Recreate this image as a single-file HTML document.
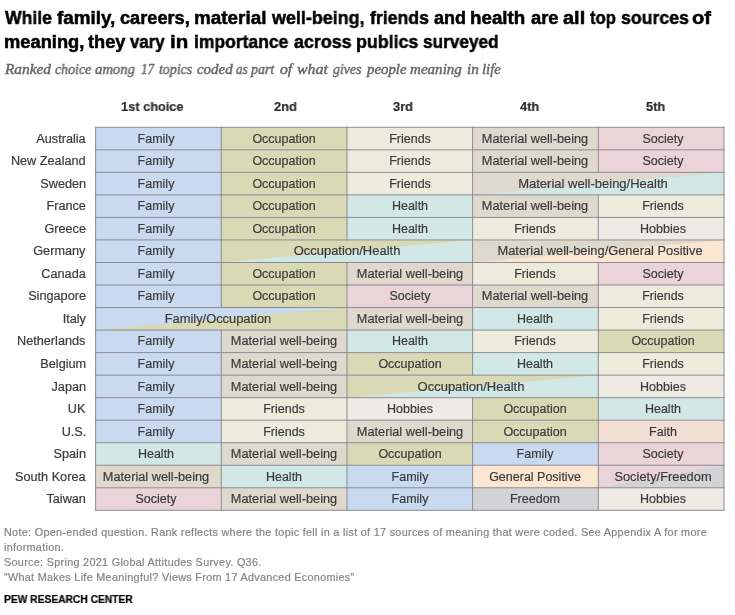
<!DOCTYPE html>
<html lang="en"><head><meta charset="utf-8"><title>Sources of meaning</title>
<style>

html,body{margin:0;padding:0;background:#fff;}
body{width:735px;height:615px;position:relative;overflow:hidden;font-family:"Liberation Sans",sans-serif;color:#3b3b3b;}
svg{position:absolute;left:0;top:0;}
.t{will-change:transform;position:absolute;white-space:nowrap;line-height:1;}
.title{-webkit-text-stroke:0.5px #000;font-weight:bold;font-size:18px;color:#000;left:4px;transform-origin:0 0;transform:scaleX(1);}
.sub{-webkit-text-stroke:0.45px #666666;font-family:"Liberation Serif",serif;font-style:italic;letter-spacing:0px;font-size:14.8px;color:#666666;left:4px;top:61.9px;transform-origin:0 0;transform:scaleX(1.033);}
.hd{-webkit-text-stroke:0.2px #2b2b2b;font-weight:bold;font-size:13px;color:#2b2b2b;top:99.9px;transform-origin:0 0;transform:scaleX(0.985);}
.ct{-webkit-text-stroke:0.2px #3b3b3b;font-size:12.5px;right:649.2px;text-align:right;transform-origin:100% 0;transform:scaleX(1.015);}
.c{-webkit-text-stroke:0.2px #3b3b3b;font-size:12.5px;width:300px;margin-left:-150px;text-align:center;transform:scaleX(1);}
.n{-webkit-text-stroke:0.2px #848484;letter-spacing:0.3px;font-size:10.5px;color:#848484;left:4px;transform-origin:0 0;transform:scaleX(1.029);}
.pew{-webkit-text-stroke:0.2px #000;font-weight:bold;font-size:10.5px;color:#000;left:4px;top:594px;transform-origin:0 0;transform:scaleX(0.976);}

</style></head><body>
<svg width="735" height="615" viewBox="0 0 735 615">
<rect x="95.6" y="127.3" width="125.7" height="22.53" fill="#c9d9f0"/>
<rect x="221.3" y="127.3" width="125.7" height="22.53" fill="#d9d9b6"/>
<rect x="347" y="127.3" width="125.6" height="22.53" fill="#edebdb"/>
<rect x="472.6" y="127.3" width="125.7" height="22.53" fill="#dfd9cd"/>
<rect x="598.3" y="127.3" width="125.7" height="22.53" fill="#ead3d9"/>
<rect x="95.6" y="149.83" width="125.7" height="22.53" fill="#c9d9f0"/>
<rect x="221.3" y="149.83" width="125.7" height="22.53" fill="#d9d9b6"/>
<rect x="347" y="149.83" width="125.6" height="22.53" fill="#edebdb"/>
<rect x="472.6" y="149.83" width="125.7" height="22.53" fill="#dfd9cd"/>
<rect x="598.3" y="149.83" width="125.7" height="22.53" fill="#ead3d9"/>
<rect x="95.6" y="172.36" width="125.7" height="22.53" fill="#c9d9f0"/>
<rect x="221.3" y="172.36" width="125.7" height="22.53" fill="#d9d9b6"/>
<rect x="347" y="172.36" width="125.6" height="22.53" fill="#edebdb"/>
<rect x="472.6" y="172.36" width="251.4" height="22.53" fill="#d1e8e6"/>
<polygon points="472.6,172.36 724,172.36 472.6,194.89" fill="#dfd9cd"/>
<rect x="95.6" y="194.89" width="125.7" height="22.53" fill="#c9d9f0"/>
<rect x="221.3" y="194.89" width="125.7" height="22.53" fill="#d9d9b6"/>
<rect x="347" y="194.89" width="125.6" height="22.53" fill="#d1e8e6"/>
<rect x="472.6" y="194.89" width="125.7" height="22.53" fill="#dfd9cd"/>
<rect x="598.3" y="194.89" width="125.7" height="22.53" fill="#edebdb"/>
<rect x="95.6" y="217.42" width="125.7" height="22.53" fill="#c9d9f0"/>
<rect x="221.3" y="217.42" width="125.7" height="22.53" fill="#d9d9b6"/>
<rect x="347" y="217.42" width="125.6" height="22.53" fill="#d1e8e6"/>
<rect x="472.6" y="217.42" width="125.7" height="22.53" fill="#edebdb"/>
<rect x="598.3" y="217.42" width="125.7" height="22.53" fill="#f0eae5"/>
<rect x="95.6" y="239.95" width="125.7" height="22.53" fill="#c9d9f0"/>
<rect x="221.3" y="239.95" width="251.3" height="22.53" fill="#d1e8e6"/>
<polygon points="221.3,239.95 472.6,239.95 221.3,262.48" fill="#d9d9b6"/>
<rect x="472.6" y="239.95" width="251.4" height="22.53" fill="#fbe6d2"/>
<polygon points="472.6,239.95 724,239.95 472.6,262.48" fill="#dfd9cd"/>
<rect x="95.6" y="262.48" width="125.7" height="22.53" fill="#c9d9f0"/>
<rect x="221.3" y="262.48" width="125.7" height="22.53" fill="#d9d9b6"/>
<rect x="347" y="262.48" width="125.6" height="22.53" fill="#dfd9cd"/>
<rect x="472.6" y="262.48" width="125.7" height="22.53" fill="#edebdb"/>
<rect x="598.3" y="262.48" width="125.7" height="22.53" fill="#ead3d9"/>
<rect x="95.6" y="285.01" width="125.7" height="22.53" fill="#c9d9f0"/>
<rect x="221.3" y="285.01" width="125.7" height="22.53" fill="#d9d9b6"/>
<rect x="347" y="285.01" width="125.6" height="22.53" fill="#ead3d9"/>
<rect x="472.6" y="285.01" width="125.7" height="22.53" fill="#dfd9cd"/>
<rect x="598.3" y="285.01" width="125.7" height="22.53" fill="#edebdb"/>
<rect x="95.6" y="307.54" width="251.4" height="22.53" fill="#d9d9b6"/>
<polygon points="95.6,307.54 347,307.54 95.6,330.07" fill="#c9d9f0"/>
<rect x="347" y="307.54" width="125.6" height="22.53" fill="#dfd9cd"/>
<rect x="472.6" y="307.54" width="125.7" height="22.53" fill="#d1e8e6"/>
<rect x="598.3" y="307.54" width="125.7" height="22.53" fill="#edebdb"/>
<rect x="95.6" y="330.07" width="125.7" height="22.53" fill="#c9d9f0"/>
<rect x="221.3" y="330.07" width="125.7" height="22.53" fill="#dfd9cd"/>
<rect x="347" y="330.07" width="125.6" height="22.53" fill="#d1e8e6"/>
<rect x="472.6" y="330.07" width="125.7" height="22.53" fill="#edebdb"/>
<rect x="598.3" y="330.07" width="125.7" height="22.53" fill="#d9d9b6"/>
<rect x="95.6" y="352.6" width="125.7" height="22.53" fill="#c9d9f0"/>
<rect x="221.3" y="352.6" width="125.7" height="22.53" fill="#dfd9cd"/>
<rect x="347" y="352.6" width="125.6" height="22.53" fill="#d9d9b6"/>
<rect x="472.6" y="352.6" width="125.7" height="22.53" fill="#d1e8e6"/>
<rect x="598.3" y="352.6" width="125.7" height="22.53" fill="#edebdb"/>
<rect x="95.6" y="375.13" width="125.7" height="22.53" fill="#c9d9f0"/>
<rect x="221.3" y="375.13" width="125.7" height="22.53" fill="#dfd9cd"/>
<rect x="347" y="375.13" width="251.3" height="22.53" fill="#d1e8e6"/>
<polygon points="347,375.13 598.3,375.13 347,397.66" fill="#d9d9b6"/>
<rect x="598.3" y="375.13" width="125.7" height="22.53" fill="#f0eae5"/>
<rect x="95.6" y="397.66" width="125.7" height="22.53" fill="#c9d9f0"/>
<rect x="221.3" y="397.66" width="125.7" height="22.53" fill="#edebdb"/>
<rect x="347" y="397.66" width="125.6" height="22.53" fill="#f0eae5"/>
<rect x="472.6" y="397.66" width="125.7" height="22.53" fill="#d9d9b6"/>
<rect x="598.3" y="397.66" width="125.7" height="22.53" fill="#d1e8e6"/>
<rect x="95.6" y="420.19" width="125.7" height="22.53" fill="#c9d9f0"/>
<rect x="221.3" y="420.19" width="125.7" height="22.53" fill="#edebdb"/>
<rect x="347" y="420.19" width="125.6" height="22.53" fill="#dfd9cd"/>
<rect x="472.6" y="420.19" width="125.7" height="22.53" fill="#d9d9b6"/>
<rect x="598.3" y="420.19" width="125.7" height="22.53" fill="#f3ded4"/>
<rect x="95.6" y="442.72" width="125.7" height="22.53" fill="#d1e8e6"/>
<rect x="221.3" y="442.72" width="125.7" height="22.53" fill="#dfd9cd"/>
<rect x="347" y="442.72" width="125.6" height="22.53" fill="#d9d9b6"/>
<rect x="472.6" y="442.72" width="125.7" height="22.53" fill="#c9d9f0"/>
<rect x="598.3" y="442.72" width="125.7" height="22.53" fill="#ead3d9"/>
<rect x="95.6" y="465.25" width="125.7" height="22.53" fill="#dfd9cd"/>
<rect x="221.3" y="465.25" width="125.7" height="22.53" fill="#d1e8e6"/>
<rect x="347" y="465.25" width="125.6" height="22.53" fill="#c9d9f0"/>
<rect x="472.6" y="465.25" width="125.7" height="22.53" fill="#fbe6d2"/>
<rect x="598.3" y="465.25" width="125.7" height="22.53" fill="#d3d3d6"/>
<polygon points="598.3,465.25 724,465.25 598.3,487.78" fill="#ead3d9"/>
<rect x="95.6" y="487.78" width="125.7" height="22.53" fill="#ead3d9"/>
<rect x="221.3" y="487.78" width="125.7" height="22.53" fill="#dfd9cd"/>
<rect x="347" y="487.78" width="125.6" height="22.53" fill="#c9d9f0"/>
<rect x="472.6" y="487.78" width="125.7" height="22.53" fill="#d3d3d6"/>
<rect x="598.3" y="487.78" width="125.7" height="22.53" fill="#f0eae5"/>
<path d="M221.3 127.3V149.83M347 127.3V149.83M472.6 127.3V149.83M598.3 127.3V149.83M221.3 149.83V172.36M347 149.83V172.36M472.6 149.83V172.36M598.3 149.83V172.36M221.3 172.36V194.89M347 172.36V194.89M472.6 172.36V194.89M221.3 194.89V217.42M347 194.89V217.42M472.6 194.89V217.42M598.3 194.89V217.42M221.3 217.42V239.95M347 217.42V239.95M472.6 217.42V239.95M598.3 217.42V239.95M221.3 239.95V262.48M472.6 239.95V262.48M221.3 262.48V285.01M347 262.48V285.01M472.6 262.48V285.01M598.3 262.48V285.01M221.3 285.01V307.54M347 285.01V307.54M472.6 285.01V307.54M598.3 285.01V307.54M347 307.54V330.07M472.6 307.54V330.07M598.3 307.54V330.07M221.3 330.07V352.6M347 330.07V352.6M472.6 330.07V352.6M598.3 330.07V352.6M221.3 352.6V375.13M347 352.6V375.13M472.6 352.6V375.13M598.3 352.6V375.13M221.3 375.13V397.66M347 375.13V397.66M598.3 375.13V397.66M221.3 397.66V420.19M347 397.66V420.19M472.6 397.66V420.19M598.3 397.66V420.19M221.3 420.19V442.72M347 420.19V442.72M472.6 420.19V442.72M598.3 420.19V442.72M221.3 442.72V465.25M347 442.72V465.25M472.6 442.72V465.25M598.3 442.72V465.25M221.3 465.25V487.78M347 465.25V487.78M472.6 465.25V487.78M598.3 465.25V487.78M221.3 487.78V510.31M347 487.78V510.31M472.6 487.78V510.31M598.3 487.78V510.31M95.6 127.3H724M95.6 149.83H724M95.6 172.36H724M95.6 194.89H724M95.6 217.42H724M95.6 239.95H724M95.6 262.48H724M95.6 285.01H724M95.6 307.54H724M95.6 330.07H724M95.6 352.6H724M95.6 375.13H724M95.6 397.66H724M95.6 420.19H724M95.6 442.72H724M95.6 465.25H724M95.6 487.78H724M95.6 510.31H724M95.6 127.3V510.31M724 127.3V510.31" fill="none" stroke="#88868e" stroke-width="0.95" stroke-linecap="square"/>
</svg>
<div class="t title" id="t1w0" style="left:4.8px;top:9.3px;transform:scaleX(0.978)">While</div>
<div class="t title" id="t1w1" style="left:56.9px;top:9.3px;transform:scaleX(1.048)">family,</div>
<div class="t title" id="t1w2" style="left:120.09px;top:9.3px;transform:scaleX(1.010)">careers,</div>
<div class="t title" id="t1w3" style="left:193.75px;top:9.3px;transform:scaleX(1.049)">material</div>
<div class="t title" id="t1w4" style="left:272.3px;top:9.3px;transform:scaleX(0.995)">well-being,</div>
<div class="t title" id="t1w5" style="left:369.8px;top:9.3px;transform:scaleX(0.982)">friends</div>
<div class="t title" id="t1w6" style="left:434.15px;top:9.3px;transform:scaleX(0.998)">and</div>
<div class="t title" id="t1w7" style="left:469.66px;top:9.3px;transform:scaleX(1.042)">health</div>
<div class="t title" id="t1w8" style="left:530.55px;top:9.3px;transform:scaleX(1.019)">are</div>
<div class="t title" id="t1w9" style="left:563.02px;top:9.3px;transform:scaleX(1.109)">all</div>
<div class="t title" id="t1w10" style="left:590.2px;top:9.3px;transform:scaleX(0.924)">top</div>
<div class="t title" id="t1w11" style="left:620.81px;top:9.3px;transform:scaleX(0.984)">sources</div>
<div class="t title" id="t1w12" style="left:691.74px;top:9.3px;transform:scaleX(1.122)">of</div>
<div class="t title" id="t2w0" style="left:3.88px;top:32.5px;transform:scaleX(1.017)">meaning,</div>
<div class="t title" id="t2w1" style="left:87.6px;top:32.5px;transform:scaleX(1.012)">they</div>
<div class="t title" id="t2w2" style="left:130.3px;top:32.5px;transform:scaleX(0.934)">vary</div>
<div class="t title" id="t2w3" style="left:170.16px;top:32.5px;transform:scaleX(1.140)">in</div>
<div class="t title" id="t2w4" style="left:194.13px;top:32.5px;transform:scaleX(0.972)">importance</div>
<div class="t title" id="t2w5" style="left:294.25px;top:32.5px;transform:scaleX(0.992)">across</div>
<div class="t title" id="t2w6" style="left:355.71px;top:32.5px;transform:scaleX(0.989)">publics</div>
<div class="t title" id="t2w7" style="left:422.72px;top:32.5px;transform:scaleX(0.957)">surveyed</div>
<div class="t sub" id="subw0" style="left:5.1px;top:61.9px;transform:scaleX(1.037)">Ranked</div>
<div class="t sub" id="subw1" style="left:54.57px;top:61.9px;transform:scaleX(0.939)">choice</div>
<div class="t sub" id="subw2" style="left:95.45px;top:61.9px;transform:scaleX(0.989)">among</div>
<div class="t sub" id="subw3" style="left:141.28px;top:61.9px;transform:scaleX(0.880)">17</div>
<div class="t sub" id="subw4" style="left:159.03px;top:61.9px;transform:scaleX(0.939)">topics</div>
<div class="t sub" id="subw5" style="left:196.75px;top:61.9px;transform:scaleX(1.007)">coded</div>
<div class="t sub" id="subw6" style="left:236.08px;top:61.9px;transform:scaleX(0.880)">as</div>
<div class="t sub" id="subw7" style="left:251.3px;top:61.9px;transform:scaleX(0.943)">part</div>
<div class="t sub" id="subw8" style="left:279.53px;top:61.9px;transform:scaleX(1.064)">of</div>
<div class="t sub" id="subw9" style="left:297.33px;top:61.9px;transform:scaleX(1.076)">what</div>
<div class="t sub" id="subw10" style="left:332.5px;top:61.9px;transform:scaleX(0.932)">gives</div>
<div class="t sub" id="subw11" style="left:367px;top:61.9px;transform:scaleX(1.001)">people</div>
<div class="t sub" id="subw12" style="left:410.35px;top:61.9px;transform:scaleX(1.018)">meaning</div>
<div class="t sub" id="subw13" style="left:467.09px;top:61.9px;transform:scaleX(1.014)">in</div>
<div class="t sub" id="subw14" style="left:482.4px;top:61.9px;transform:scaleX(0.992)">life</div>
<div class="t hd" id="h0" style="left:120.8px">1st choice</div>
<div class="t hd" id="h1" style="left:274.4px">2nd</div>
<div class="t hd" id="h2" style="left:393.2px">3rd</div>
<div class="t hd" id="h3" style="left:519.6px">4th</div>
<div class="t hd" id="h4" style="left:645.5px">5th</div>
<div class="t ct" id="ct0" style="top:132.72px">Australia</div>
<div class="t ct" id="ct1" style="top:155.24px">New Zealand</div>
<div class="t ct" id="ct2" style="top:177.78px">Sweden</div>
<div class="t ct" id="ct3" style="top:200.3px">France</div>
<div class="t ct" id="ct4" style="top:222.84px">Greece</div>
<div class="t ct" id="ct5" style="top:245.36px">Germany</div>
<div class="t ct" id="ct6" style="top:267.89px">Canada</div>
<div class="t ct" id="ct7" style="top:290.42px">Singapore</div>
<div class="t ct" id="ct8" style="top:312.95px">Italy</div>
<div class="t ct" id="ct9" style="top:335.48px">Netherlands</div>
<div class="t ct" id="ct10" style="top:358.01px">Belgium</div>
<div class="t ct" id="ct11" style="top:380.54px">Japan</div>
<div class="t ct" id="ct12" style="top:403.07px">UK</div>
<div class="t ct" id="ct13" style="top:425.6px">U.S.</div>
<div class="t ct" id="ct14" style="top:448.13px">Spain</div>
<div class="t ct" id="ct15" style="top:470.67px">South Korea</div>
<div class="t ct" id="ct16" style="top:493.19px">Taiwan</div>
<div class="t c" id="c0" style="left:155.85px;top:132.72px">Family</div>
<div class="t c" id="c1" style="left:283.85px;top:132.72px">Occupation</div>
<div class="t c" id="c2" style="left:409.8px;top:132.72px">Friends</div>
<div class="t c" id="c3" style="left:534.85px;top:132.72px;transform:scaleX(1.0200)">Material well-being</div>
<div class="t c" id="c4" style="left:662.75px;top:132.72px">Society</div>
<div class="t c" id="c5" style="left:155.85px;top:155.24px">Family</div>
<div class="t c" id="c6" style="left:283.85px;top:155.24px">Occupation</div>
<div class="t c" id="c7" style="left:409.8px;top:155.24px">Friends</div>
<div class="t c" id="c8" style="left:534.85px;top:155.24px;transform:scaleX(1.0200)">Material well-being</div>
<div class="t c" id="c9" style="left:662.75px;top:155.24px">Society</div>
<div class="t c" id="c10" style="left:155.85px;top:177.78px">Family</div>
<div class="t c" id="c11" style="left:283.85px;top:177.78px">Occupation</div>
<div class="t c" id="c12" style="left:409.8px;top:177.78px">Friends</div>
<div class="t c" id="c13" style="left:593.35px;top:177.78px;transform:scaleX(1.0408)">Material well-being/Health</div>
<div class="t c" id="c14" style="left:155.85px;top:200.3px">Family</div>
<div class="t c" id="c15" style="left:283.85px;top:200.3px">Occupation</div>
<div class="t c" id="c16" style="left:409.8px;top:200.3px">Health</div>
<div class="t c" id="c17" style="left:534.85px;top:200.3px;transform:scaleX(1.0200)">Material well-being</div>
<div class="t c" id="c18" style="left:662.75px;top:200.3px">Friends</div>
<div class="t c" id="c19" style="left:155.85px;top:222.84px">Family</div>
<div class="t c" id="c20" style="left:283.85px;top:222.84px">Occupation</div>
<div class="t c" id="c21" style="left:409.8px;top:222.84px">Health</div>
<div class="t c" id="c22" style="left:534.85px;top:222.84px">Friends</div>
<div class="t c" id="c23" style="left:662.75px;top:222.84px">Hobbies</div>
<div class="t c" id="c24" style="left:155.85px;top:245.36px">Family</div>
<div class="t c" id="c25" style="left:346.55px;top:245.36px;transform:scaleX(1.0375)">Occupation/Health</div>
<div class="t c" id="c26" style="left:599.55px;top:245.36px;transform:scaleX(1.0286)">Material well-being/General Positive</div>
<div class="t c" id="c27" style="left:155.85px;top:267.89px">Family</div>
<div class="t c" id="c28" style="left:283.85px;top:267.89px">Occupation</div>
<div class="t c" id="c29" style="left:409.8px;top:267.89px;transform:scaleX(1.0200)">Material well-being</div>
<div class="t c" id="c30" style="left:534.85px;top:267.89px">Friends</div>
<div class="t c" id="c31" style="left:662.75px;top:267.89px">Society</div>
<div class="t c" id="c32" style="left:155.85px;top:290.42px">Family</div>
<div class="t c" id="c33" style="left:283.85px;top:290.42px">Occupation</div>
<div class="t c" id="c34" style="left:409.8px;top:290.42px">Society</div>
<div class="t c" id="c35" style="left:534.85px;top:290.42px;transform:scaleX(1.0200)">Material well-being</div>
<div class="t c" id="c36" style="left:662.75px;top:290.42px">Friends</div>
<div class="t c" id="c37" style="left:218.25px;top:312.95px;transform:scaleX(1.0288)">Family/Occupation</div>
<div class="t c" id="c38" style="left:409.8px;top:312.95px;transform:scaleX(1.0200)">Material well-being</div>
<div class="t c" id="c39" style="left:534.85px;top:312.95px">Health</div>
<div class="t c" id="c40" style="left:662.75px;top:312.95px">Friends</div>
<div class="t c" id="c41" style="left:155.85px;top:335.48px">Family</div>
<div class="t c" id="c42" style="left:283.85px;top:335.48px;transform:scaleX(1.0200)">Material well-being</div>
<div class="t c" id="c43" style="left:409.8px;top:335.48px">Health</div>
<div class="t c" id="c44" style="left:534.85px;top:335.48px">Friends</div>
<div class="t c" id="c45" style="left:662.75px;top:335.48px">Occupation</div>
<div class="t c" id="c46" style="left:155.85px;top:358.01px">Family</div>
<div class="t c" id="c47" style="left:283.85px;top:358.01px;transform:scaleX(1.0200)">Material well-being</div>
<div class="t c" id="c48" style="left:409.8px;top:358.01px">Occupation</div>
<div class="t c" id="c49" style="left:534.85px;top:358.01px">Health</div>
<div class="t c" id="c50" style="left:662.75px;top:358.01px">Friends</div>
<div class="t c" id="c51" style="left:155.85px;top:380.54px">Family</div>
<div class="t c" id="c52" style="left:283.85px;top:380.54px;transform:scaleX(1.0200)">Material well-being</div>
<div class="t c" id="c53" style="left:470.5px;top:380.54px;transform:scaleX(1.0385)">Occupation/Health</div>
<div class="t c" id="c54" style="left:662.75px;top:380.54px">Hobbies</div>
<div class="t c" id="c55" style="left:155.85px;top:403.07px">Family</div>
<div class="t c" id="c56" style="left:283.85px;top:403.07px">Friends</div>
<div class="t c" id="c57" style="left:409.8px;top:403.07px">Hobbies</div>
<div class="t c" id="c58" style="left:534.85px;top:403.07px">Occupation</div>
<div class="t c" id="c59" style="left:662.75px;top:403.07px">Health</div>
<div class="t c" id="c60" style="left:155.85px;top:425.6px">Family</div>
<div class="t c" id="c61" style="left:283.85px;top:425.6px">Friends</div>
<div class="t c" id="c62" style="left:409.8px;top:425.6px;transform:scaleX(1.0200)">Material well-being</div>
<div class="t c" id="c63" style="left:534.85px;top:425.6px">Occupation</div>
<div class="t c" id="c64" style="left:662.75px;top:425.6px">Faith</div>
<div class="t c" id="c65" style="left:155.85px;top:448.13px">Health</div>
<div class="t c" id="c66" style="left:283.85px;top:448.13px;transform:scaleX(1.0200)">Material well-being</div>
<div class="t c" id="c67" style="left:409.8px;top:448.13px">Occupation</div>
<div class="t c" id="c68" style="left:534.85px;top:448.13px">Family</div>
<div class="t c" id="c69" style="left:662.75px;top:448.13px">Society</div>
<div class="t c" id="c70" style="left:155.85px;top:470.67px;transform:scaleX(1.0200)">Material well-being</div>
<div class="t c" id="c71" style="left:283.85px;top:470.67px">Health</div>
<div class="t c" id="c72" style="left:409.8px;top:470.67px">Family</div>
<div class="t c" id="c73" style="left:534.85px;top:470.67px">General Positive</div>
<div class="t c" id="c74" style="left:662.7px;top:470.67px;transform:scaleX(1.0287)">Society/Freedom</div>
<div class="t c" id="c75" style="left:155.85px;top:493.19px">Society</div>
<div class="t c" id="c76" style="left:283.85px;top:493.19px;transform:scaleX(1.0200)">Material well-being</div>
<div class="t c" id="c77" style="left:409.8px;top:493.19px">Family</div>
<div class="t c" id="c78" style="left:534.85px;top:493.19px">Freedom</div>
<div class="t c" id="c79" style="left:662.75px;top:493.19px">Hobbies</div>
<div class="t n" id="n0" style="top:526.8px">Note: Open-ended question. Rank reflects where the topic fell in a list of 17 sources of meaning that were coded. See Appendix A for more</div>
<div class="t n" id="n1" style="top:541.8px">information.</div>
<div class="t n" id="n2" style="top:556.8px">Source: Spring 2021 Global Attitudes Survey. Q36.</div>
<div class="t n" id="n3" style="top:571.8px">“What Makes Life Meaningful? Views From 17 Advanced Economies”</div>
<div class="t pew" id="pew">PEW RESEARCH CENTER</div>
</body></html>
